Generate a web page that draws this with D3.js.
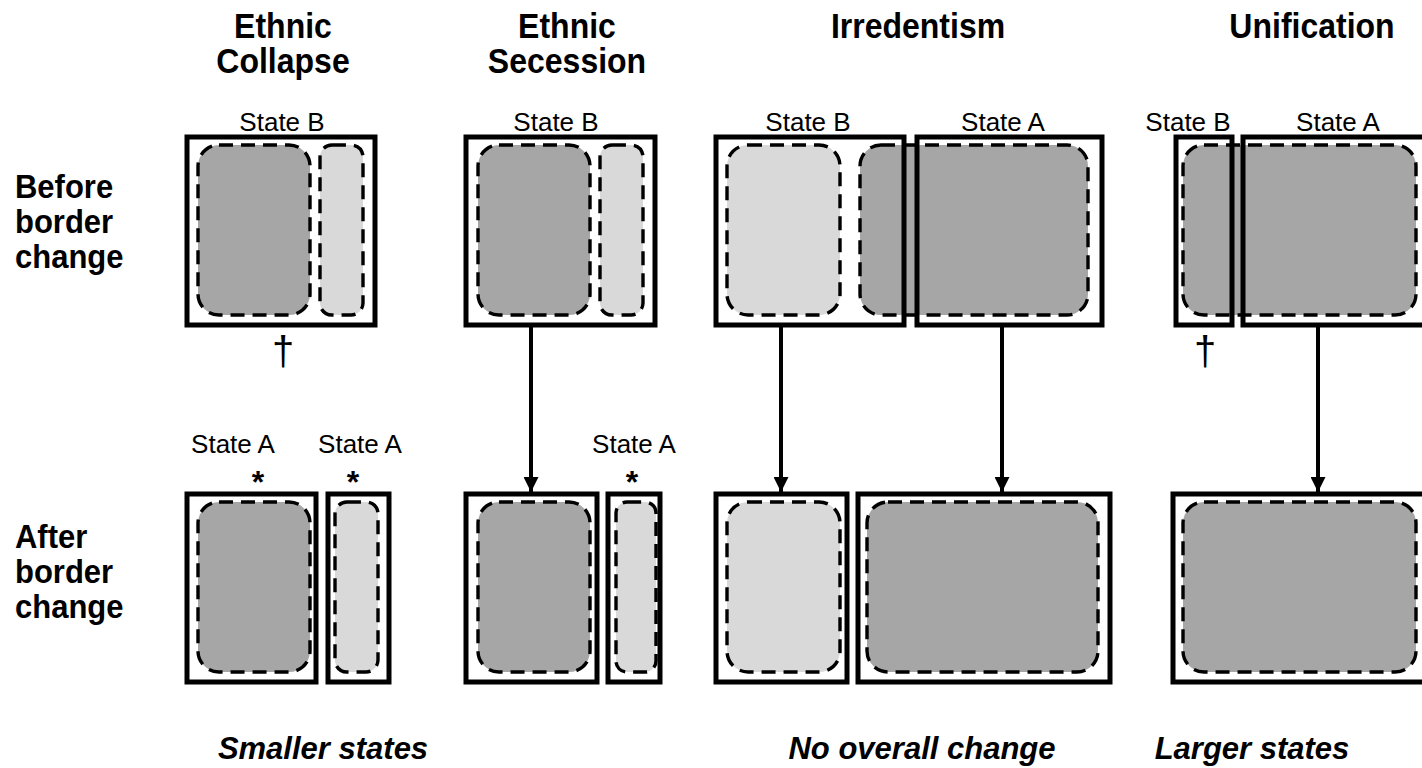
<!DOCTYPE html>
<html><head><meta charset="utf-8">
<script src="https://cdn.jsdelivr.net/npm/d3@7"></script>
<style>body{margin:0;background:#fff} svg{display:block}</style>
</head><body><svg id="c" width="1422" height="768"></svg>
<script>
// ---- diagram content (reference pixel units) ----
const scenarioTitles = [["Ethnic","Collapse"],["Ethnic","Secession"],["Irredentism"],["Unification"]];
const scenarioCenters = [283, 567, 918, 1312];
const rowLabels = [["Before","border","change"],["After","border","change"]];
const outcomeLabels = ["Smaller states","No overall change","Larger states"];
const outcomeCenters = [323, 922, 1252];

// ethnic-group regions: [row, x0, x1, group]  group 0 = majority (dark), 1 = minority (light)
const regions = [
  [0,198,310,0],[0,320,363,1],
  [0,478,590,0],[0,600,643,1],
  [0,727,840,1],[0,860,1088,0],
  [0,1183,1416,0],
  [1,198,310,0],[1,335,378,1],
  [1,478,590,0],[1,616,656,1],
  [1,727,840,1],[1,867,1098,0],
  [1,1183,1416,0]
];
// state borders: [row, x0, x1]
const stateBoxes = [
  [0,187,375],[0,466,655],[0,716,904],[0,917,1102],[0,1176,1232],[0,1243,1430],
  [1,187,316],[1,328,389],[1,466,597],[1,608,660],[1,716,847],[1,858,1110],[1,1173,1430]
];
// state name labels: [row, x, text]
const stateLabels = [
  [0,282,"State B"],[0,556,"State B"],[0,808,"State B"],[0,1003,"State A"],[0,1188,"State B"],[0,1338,"State A"],
  [1,233,"State A"],[1,360,"State A"],[1,634,"State A"]
];
const newStateMarks = [258, 353, 632];     // "*" new state
const deadStateMarks = [283, 1205];        // "†" state death
const arrowXs = [531, 781, 1002, 1318];

// ---- scales ----
const x = d3.scaleLinear().domain([0,1422]).range([0,1422]);
const rowBox = d3.scaleOrdinal().domain([0,1]).range([[137,325],[494,682]]);
const rowRegion = d3.scaleOrdinal().domain([0,1]).range([[145,315],[502,672]]);
const fill = d3.scaleOrdinal().domain([0,1]).range(["#a6a6a6","#d9d9d9"]);

const svg = d3.select("#c");
const FONT = "'Liberation Sans', Arial, Helvetica, sans-serif";

svg.append("defs").append("marker")
  .attr("id","ah").attr("viewBox","0 0 10 10").attr("refX",10).attr("refY",5)
  .attr("markerUnits","userSpaceOnUse").attr("markerWidth",15).attr("markerHeight",15)
  .attr("orient","auto")
  .append("path").attr("d","M0,0 L10,5 L0,10 Z").attr("fill","#000");

// regions
svg.append("g").selectAll("rect").data(regions).join("rect")
  .attr("x", d => x(d[1])).attr("width", d => x(d[2]) - x(d[1]))
  .attr("y", d => rowRegion(d[0])[0]).attr("height", d => rowRegion(d[0])[1] - rowRegion(d[0])[0])
  .attr("rx", d => Math.min(21, (x(d[2]) - x(d[1])) / 3.6))
  .attr("fill", d => fill(d[3]))
  .attr("stroke","#000").attr("stroke-width",3.4).attr("stroke-dasharray","14,8");

// state boxes
svg.append("g").selectAll("rect").data(stateBoxes).join("rect")
  .attr("x", d => x(d[1])).attr("width", d => x(d[2]) - x(d[1]))
  .attr("y", d => rowBox(d[0])[0]).attr("height", d => rowBox(d[0])[1] - rowBox(d[0])[0])
  .attr("fill","none").attr("stroke","#000").attr("stroke-width",5);

// arrows
svg.append("g").selectAll("line").data(arrowXs).join("line")
  .attr("x1", d => x(d)).attr("x2", d => x(d))
  .attr("y1", rowBox(0)[1] + 2).attr("y2", rowBox(1)[0] - 2)
  .attr("stroke","#000").attr("stroke-width",4).attr("marker-end","url(#ah)");

// state labels
svg.append("g").selectAll("text").data(stateLabels).join("text")
  .attr("x", d => x(d[1])).attr("y", d => d[0] === 0 ? 131 : 453)
  .attr("text-anchor","middle").attr("font-family",FONT).attr("font-size",26)
  .text(d => d[2]);

svg.append("g").selectAll("text").data(newStateMarks).join("text")
  .attr("x", d => x(d)).attr("y", 493).attr("text-anchor","middle")
  .attr("font-family",FONT).attr("font-weight","bold").attr("font-size",32).text("*");

svg.append("g").selectAll("text").data(deadStateMarks).join("text")
  .attr("x", d => x(d)).attr("y", 365).attr("text-anchor","middle")
  .attr("font-family",FONT).attr("font-size",40).text("\u2020");

// scenario titles
const tg = svg.append("g").selectAll("text").data(scenarioTitles).join("text")
  .attr("text-anchor","middle").attr("font-family",FONT).attr("font-weight","bold").attr("font-size",32)
  .attr("transform", (d,i) => `translate(${x(scenarioCenters[i])},38) scale(1,1.08)`);
tg.selectAll("tspan").data(d => d).join("tspan")
  .attr("x",0).attr("dy",(d,i) => i ? 32.5 : 0).text(d => d);

// row labels
const rg = svg.append("g").selectAll("text").data(rowLabels).join("text")
  .attr("font-family",FONT).attr("font-weight","bold").attr("font-size",31)
  .attr("transform", (d,i) => `translate(15,${i ? 548 : 198}) scale(1,1.05)`);
rg.selectAll("tspan").data(d => d).join("tspan")
  .attr("x",0).attr("dy",(d,i) => i ? 33.5 : 0).text(d => d);

// outcome labels
svg.append("g").selectAll("text").data(outcomeLabels).join("text")
  .attr("x",(d,i) => x(outcomeCenters[i])).attr("y",759).attr("text-anchor","middle")
  .attr("font-family",FONT).attr("font-weight","bold").attr("font-style","italic").attr("font-size",31)
  .text(d => d);
</script></body></html>
